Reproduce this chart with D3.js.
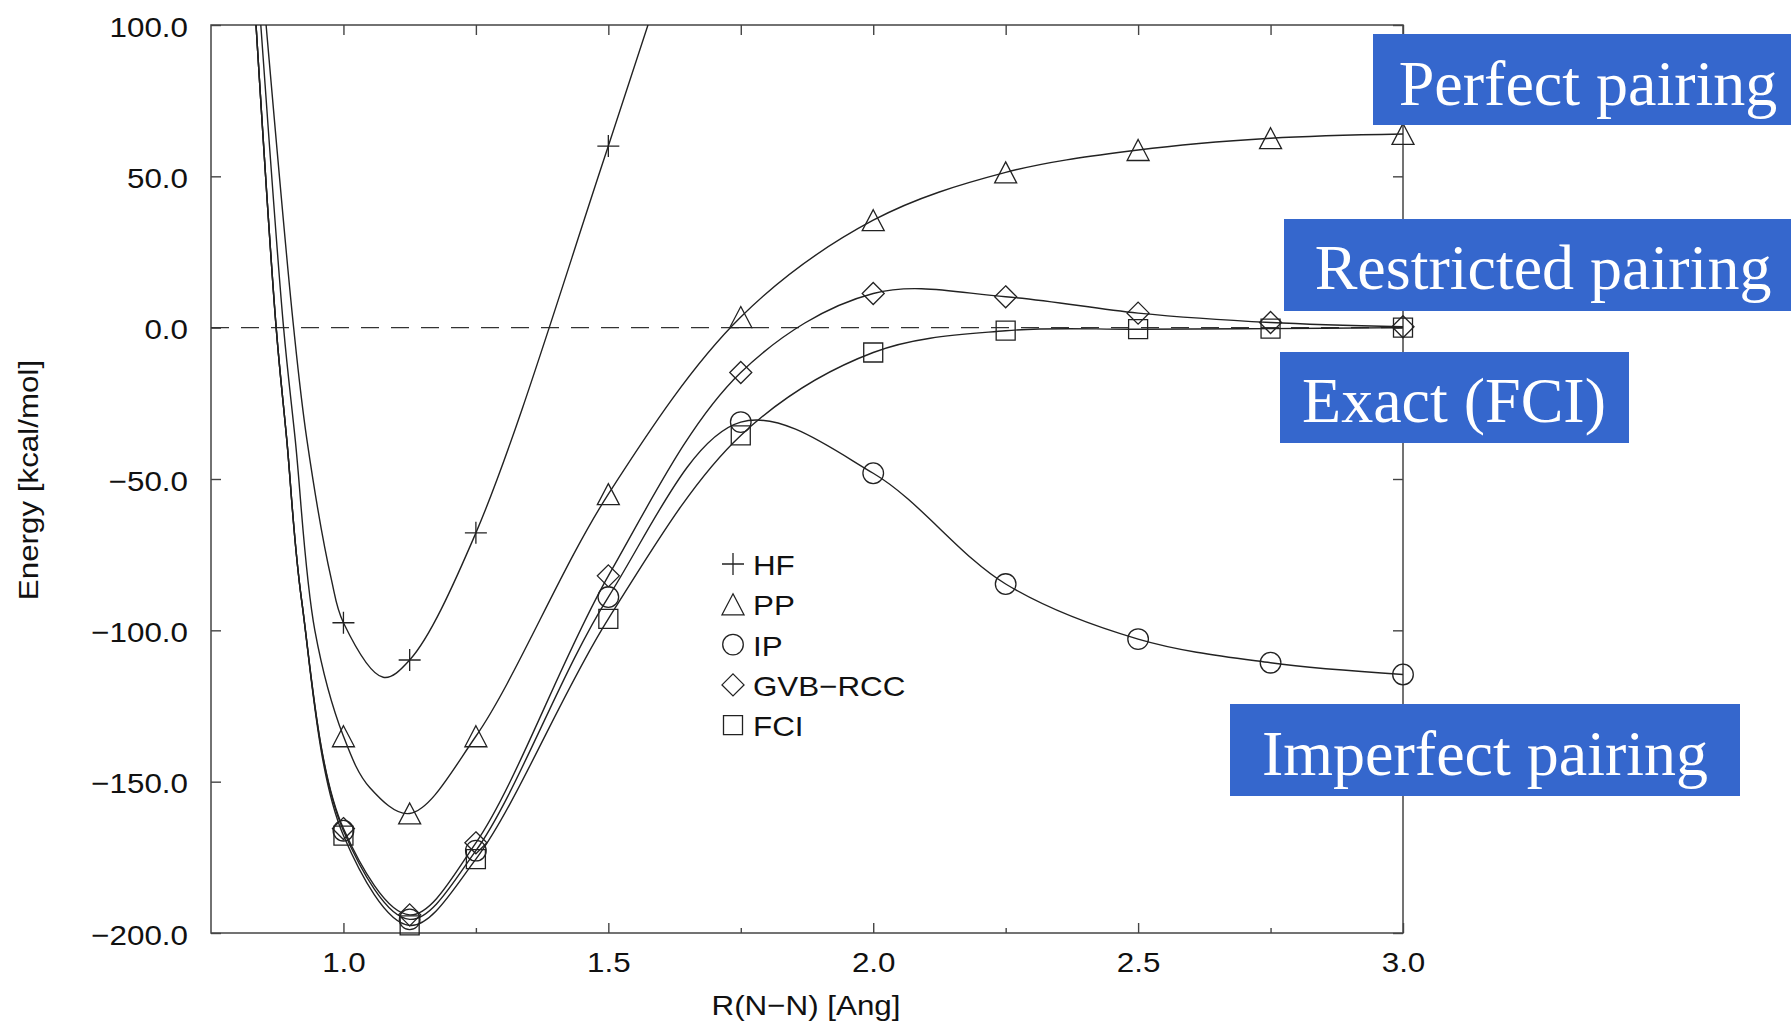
<!DOCTYPE html>
<html>
<head>
<meta charset="utf-8">
<script src="https://cdn.jsdelivr.net/npm/d3@7"></script>
<style>
  body { margin: 0; background: #fff; }
  svg { display: block; }
</style>
</head>
<body>
<svg id="chart" width="1791" height="1027"></svg>
<script>
// ---------------- DATA ----------------
// N–N bond length grid (Å) where markers are drawn
const R = [1.0, 1.125, 1.25, 1.5, 1.75, 2.0, 2.25, 2.5, 2.75, 3.0];
// Energies (kcal/mol) for each method (HF beyond 1.5 Å runs off the chart)
const HF  = [-97.5, -109.8, -67.8, 60.0, 195];
const PP  = [-135.0, -160.5, -135.0, -55.0, 3.5, 35.5, 51.3, 58.7, 62.6, 64.0];
const IP  = [-166.2, -195.5, -172.8, -89.0, -31.2, -48.1, -84.7, -102.9, -110.7, -114.6];
const GVB = [-165.5, -194.0, -170.2, -82.0, -14.8, 11.3, 10.2, 4.8, 1.7, 0.3];
const FCI = [-167.8, -197.5, -175.6, -96.2, -35.6, -8.2, -1.0, -0.5, -0.3, 0.0];

// Extra points (repulsive wall / minima), [R, E]
const hfGuide  = [[0.83, 150], [0.854, 100], [0.906, 0], [0.931, -37], [0.977, -83], [1.075, -115.5]];
const ppGuide  = [[0.82, 160], [0.844, 100], [0.887, 0], [0.909, -37], [0.946, -100], [1.05, -152]];
const ipGuide  = [[0.82, 145], [0.835, 100], [0.873, 0], [0.893, -37], [0.921, -90]];
const gvbGuide = [[0.82, 145], [0.835, 100], [0.873, 0], [0.893, -37], [0.921, -90]];
const fciGuide = [[0.82, 145], [0.835, 100], [0.873, 0], [0.893, -37], [0.921, -90]];

const seriesNames = ["HF", "PP", "IP", "GVB\u2212RCC", "FCI"];
const symbolTypes = ["plus", "triangle", "circle", "diamond", "square"];

const xMajorTicks = [1.0, 1.5, 2.0, 2.5, 3.0];
const xAllTicks   = [1.0, 1.25, 1.5, 1.75, 2.0, 2.25, 2.5, 2.75, 3.0];
const yTicks      = [-200, -150, -100, -50, 0, 50, 100];

const xTitle = "R(N\u2212N) [Ang]";
const yTitle = "Energy [kcal/mol]";

const annotations = ["Perfect pairing", "Restricted pairing", "Exact (FCI)", "Imperfect pairing"];

// ---------------- LAYOUT ----------------
const plot = { left: 211, right: 1403, top: 25, bottom: 933 };
const x = d3.scaleLinear().domain([0.75, 3.0]).range([plot.left, plot.right]);
const y = d3.scaleLinear().domain([-200, 100]).range([plot.bottom, plot.top]);

const FONT = "'Liberation Sans', Arial, Helvetica, sans-serif";
const SERIF = "'Liberation Serif', 'Times New Roman', Times, serif";
const FS = 28.5, SX = 1.1;
const INK = "#222";

const svg = d3.select("#chart");
svg.append("rect").attr("width", 1791).attr("height", 1027).attr("fill", "#fff");

svg.append("defs").append("clipPath").attr("id", "clip")
  .append("rect")
  .attr("x", plot.left).attr("y", plot.top)
  .attr("width", plot.right - plot.left).attr("height", plot.bottom - plot.top);

function stretchText(sel) {
  sel.each(function () {
    const t = d3.select(this);
    const tx = +t.attr("x") || 0;
    t.attr("transform", `translate(${tx},0) scale(${SX},1) translate(${-tx},0)`);
  });
}

// ---------------- AXES ----------------
const fmt = d3.format(".1f");

const gB = svg.append("g").attr("transform", `translate(0,${plot.bottom})`)
  .call(d3.axisBottom(x).tickValues(xMajorTicks).tickSize(-10).tickFormat(fmt));
gB.selectAll("text").attr("y", 38.7).attr("dy", null);
svg.append("g").attr("transform", `translate(0,${plot.bottom})`)
  .call(d3.axisBottom(x).tickValues(xAllTicks.filter(v => !xMajorTicks.includes(v))).tickSize(-5).tickFormat(""));
svg.append("g").attr("transform", `translate(0,${plot.top})`)
  .call(d3.axisTop(x).tickValues(xAllTicks).tickSize(-10).tickFormat(""));
const gL = svg.append("g").attr("transform", `translate(${plot.left},0)`)
  .call(d3.axisLeft(y).tickValues(yTicks).tickSize(-10).tickFormat(fmt));
gL.selectAll("text").attr("x", -23).attr("y", 11).attr("dy", null);
svg.append("g").attr("transform", `translate(${plot.right},0)`)
  .call(d3.axisRight(y).tickValues(yTicks).tickSize(-10).tickFormat(""));

svg.selectAll(".domain").remove();
svg.selectAll(".tick line").attr("stroke", "#444").attr("stroke-width", 1.4);
svg.selectAll(".tick text")
  .attr("font-family", FONT).attr("font-size", FS).attr("fill", "#111");
stretchText(gB.selectAll("text"));
stretchText(gL.selectAll("text"));

svg.append("rect")
  .attr("x", plot.left).attr("y", plot.top)
  .attr("width", plot.right - plot.left).attr("height", plot.bottom - plot.top)
  .attr("fill", "none").attr("stroke", "#444").attr("stroke-width", 1.5);

svg.append("line")
  .attr("x1", x(0.75)).attr("x2", x(3.0))
  .attr("y1", y(0)).attr("y2", y(0))
  .attr("stroke", "#333").attr("stroke-width", 1.3)
  .attr("stroke-dasharray", "18,12");

svg.append("text")
  .attr("transform", `translate(806,1015) scale(${SX},1)`)
  .attr("text-anchor", "middle")
  .attr("font-family", FONT).attr("font-size", FS).attr("fill", "#111")
  .text(xTitle);
svg.append("text")
  .attr("transform", `translate(38,480) rotate(-90) scale(${SX},1)`)
  .attr("text-anchor", "middle")
  .attr("font-family", FONT).attr("font-size", FS).attr("fill", "#111")
  .text(yTitle);

// ---------------- SERIES ----------------
const seriesValues = [HF, PP, IP, GVB, FCI];
const seriesGuides = [hfGuide, ppGuide, ipGuide, gvbGuide, fciGuide];

function symbolPath(type) {
  switch (type) {
    case "plus": return "M-11,0H11M0,-11V11";
    case "triangle": return "M0,-10.5L11,10.5H-11Z";
    case "circle": { const p = d3.path(); p.moveTo(10.3, 0); p.arc(0, 0, 10.3, 0, 2 * Math.PI); p.closePath(); return p.toString(); }
    case "diamond": return "M0,-11L11,0L0,11L-11,0Z";
    case "square": return "M-9.5,-9.5H9.5V9.5H-9.5Z";
  }
}

const line = d3.line()
  .x(d => x(d[0])).y(d => y(d[1]))
  .curve(d3.curveCatmullRom.alpha(0.5));

const gLines = svg.append("g").attr("clip-path", "url(#clip)");
const gMarks = svg.append("g");
const [yMin, yMax] = y.domain();

seriesValues.forEach((vals, i) => {
  const pts = vals.map((v, j) => [R[j], v]);
  const curvePts = pts.concat(seriesGuides[i]).sort((a, b) => a[0] - b[0]);
  gLines.append("path")
    .attr("d", line(curvePts))
    .attr("fill", "none").attr("stroke", INK).attr("stroke-width", 1.4);
  gMarks.selectAll(null).data(pts.filter(d => d[1] >= yMin && d[1] <= yMax)).enter().append("path")
    .attr("transform", d => `translate(${x(d[0])},${y(d[1])})`)
    .attr("d", symbolPath(symbolTypes[i]))
    .attr("fill", "none").attr("stroke", INK).attr("stroke-width", 1.3);
});

// ---------------- LEGEND ----------------
const leg = svg.append("g");
seriesNames.forEach((name, i) => {
  const cy = 564 + i * 40.3;
  leg.append("path")
    .attr("transform", `translate(733,${cy})`)
    .attr("d", symbolPath(symbolTypes[i]))
    .attr("fill", "none").attr("stroke", INK).attr("stroke-width", 1.3);
  leg.append("text")
    .attr("transform", `translate(753,${cy + 11}) scale(${SX},1)`)
    .attr("font-family", FONT).attr("font-size", FS).attr("fill", "#111")
    .text(name);
});

// ---------------- ANNOTATION BOXES ----------------
const boxes = [
  { x: 1373, y: 34, w: 430, h: 91, tx: 1588, ty: 105 },
  { x: 1284, y: 219, w: 518, h: 92, tx: 1543, ty: 289 },
  { x: 1280, y: 352, w: 349, h: 91, tx: 1454, ty: 422 },
  { x: 1230, y: 704, w: 510, h: 92, tx: 1485, ty: 775 }
];
const gAnn = svg.append("g");
annotations.forEach((txt, i) => {
  const b = boxes[i];
  gAnn.append("rect").attr("x", b.x).attr("y", b.y).attr("width", b.w).attr("height", b.h)
    .attr("fill", "#3567CD");
  gAnn.append("text").attr("x", b.tx).attr("y", b.ty)
    .attr("text-anchor", "middle")
    .attr("font-family", SERIF).attr("font-size", 64).attr("fill", "#fff")
    .text(txt);
});
</script>
</body>
</html>
